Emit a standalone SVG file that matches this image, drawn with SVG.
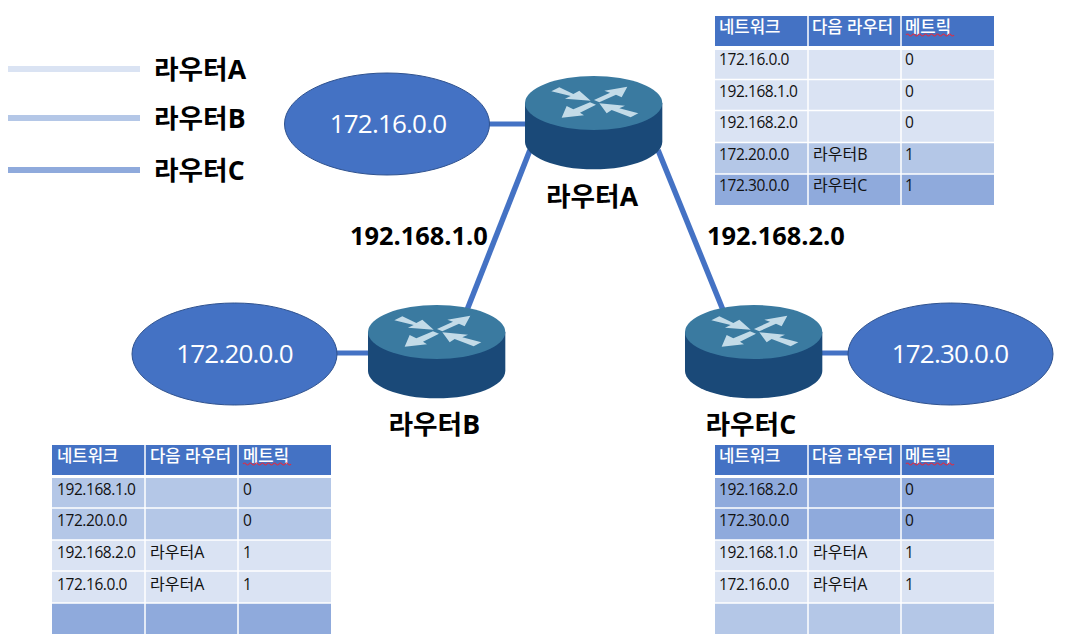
<svg xmlns="http://www.w3.org/2000/svg" xmlns:xlink="http://www.w3.org/1999/xlink" width="1065" height="643" viewBox="0 0 1065 643">
<style>
text{font-family:"Open Sans","Noto Sans CJK KR",sans-serif}
.net{fill:#4472c4;stroke:#2f528f;stroke-width:1}
.nett{fill:#fff;font-size:26px;font-weight:400;letter-spacing:-.8px;text-anchor:middle}
.lab{fill:#000;font-size:26.700px;font-weight:700}
.num{fill:#000;font-size:25.400px;font-weight:700}
.conn{stroke:#4472c4;stroke-width:5;fill:none}
.diag{stroke-width:5.500}
.h{fill:#4472c4}.a{fill:#dae3f3}.b{fill:#b4c7e7}.c{fill:#8faadc}
.th{fill:#fff;font-size:16.700px;font-weight:500}
.td{fill:#111;font-size:15.500px;letter-spacing:-.42px}
.kr{fill:#111;font-size:16px}
.sq{fill:none;stroke:#d8304a;stroke-width:1.200}
.sep{stroke:#fff;stroke-width:1.500}
</style>
<defs>
<g id="router">
<path d="M45 99V215C45 260 137 298 251 298C365 298 457 260 457 215V99Z" fill="#1a4978"/>
<ellipse cx="251" cy="99" rx="206" ry="81" fill="#3a7aa0"/>
<g fill="#c3dbe8">
<polygon points="124,64 148,52 190,72 208,62 242,92 165,86 182,78"/>
<polygon points="352,50 335,82 318,74 268,97 252,90 300,68 283,62"/>
<polygon points="155,143 170,108 190,118 240,97 258,104 210,128 222,136"/>
<polygon points="268,100 345,107 328,115 385,130 362,142 305,120 290,130"/>
</g>
</g>
<path id="squig" class="sq" d="M0 0q1.5-2 3 0t3 0 3 0 3 0 3 0 3 0 3 0 3 0 3 0 3 0 3 0 3 0 3 0 3 0 3 0 3 0"/>
</defs>
<g id="connectors">
<line class="conn" x1="489" y1="124" x2="527" y2="124"/>
<line class="conn diag" x1="530" y1="150" x2="467" y2="310"/>
<line class="conn diag" x1="658" y1="150" x2="723" y2="310"/>
<line class="conn" x1="336" y1="353" x2="370" y2="353"/>
<line class="conn" x1="821" y1="353" x2="850" y2="353"/>
</g>
<g id="legend">
<rect x="8" y="66" width="132" height="6" class="a"/>
<rect x="8" y="115" width="132" height="6" class="b"/>
<rect x="8" y="167" width="132" height="6" class="c"/>
<text class="lab" x="154" y="79">라우터A</text>
<text class="lab" x="154" y="128">라우터B</text>
<text class="lab" x="154" y="180">라우터C</text>
</g>
<g id="net-172-16"><ellipse class="net" cx="387" cy="124" rx="102.500" ry="51"/><text class="nett" x="388" y="133">172.16.0.0</text></g>
<g id="net-172-20"><ellipse class="net" cx="234.500" cy="354" rx="102.500" ry="51"/><text class="nett" x="234.500" y="362.500">172.20.0.0</text></g>
<g id="net-172-30"><ellipse class="net" cx="950.500" cy="354" rx="102.500" ry="51"/><text class="nett" x="950" y="362.500">172.30.0.0</text></g>
<g id="router-a"><use href="#router" transform="translate(510 70) scale(.3333)"/><text class="lab" x="546" y="206">라우터A</text></g>
<g id="router-b"><use href="#router" transform="translate(353 299) scale(.3333)"/><text class="lab" x="388.500" y="434">라우터B</text></g>
<g id="router-c"><use href="#router" transform="translate(670 299) scale(.3333)"/><text class="lab" x="705.500" y="434">라우터C</text></g>
<g id="link-labels">
<text class="num" x="350" y="245">192.168.1.0</text>
<text class="num" x="707" y="245">192.168.2.0</text>
</g>
<g id="table-a">
<rect class="h" x="715" y="16" width="279" height="30"/>
<rect class="a" x="715" y="50" width="279" height="92"/>
<rect class="b" x="715" y="143" width="279" height="31"/>
<rect class="c" x="715" y="174" width="279" height="31"/>
<g class="sep"><line x1="808" y1="16" x2="808" y2="205"/><line x1="901" y1="16" x2="901" y2="205"/><line x1="715" y1="79.500" x2="994" y2="79.500"/><line x1="715" y1="110.500" x2="994" y2="110.500"/><line x1="715" y1="142.500" x2="994" y2="142.500"/><line x1="715" y1="174" x2="994" y2="174"/></g>
<text class="th" x="719" y="33">네트워크</text><text class="th" x="812" y="33">다음 라우터</text><text class="th" x="905" y="33">메트릭</text>
<use href="#squig" x="906" y="35"/>
<text class="td" x="719" y="65">172.16.0.0</text><text class="td" x="905" y="65">0</text>
<text class="td" x="719" y="96.500">192.168.1.0</text><text class="td" x="905" y="96.500">0</text>
<text class="td" x="719" y="128">192.168.2.0</text><text class="td" x="905" y="128">0</text>
<text class="td" x="719" y="160">172.20.0.0</text><text class="kr" x="813" y="160">라우터B</text><text class="td" x="905" y="160">1</text>
<text class="td" x="719" y="191">172.30.0.0</text><text class="kr" x="813" y="191">라우터C</text><text class="td" x="905" y="191">1</text>
</g>
<g id="table-b">
<rect class="h" x="52" y="445" width="279" height="30"/>
<rect class="b" x="52" y="478" width="279" height="62"/>
<rect class="a" x="52" y="540" width="279" height="63"/>
<rect class="c" x="52" y="603" width="279" height="31"/>
<g class="sep"><line x1="145" y1="445" x2="145" y2="634"/><line x1="238" y1="445" x2="238" y2="634"/><line x1="52" y1="508" x2="331" y2="508"/><line x1="52" y1="540" x2="331" y2="540"/><line x1="52" y1="571" x2="331" y2="571"/><line x1="52" y1="603" x2="331" y2="603"/></g>
<text class="th" x="57" y="462">네트워크</text><text class="th" x="150" y="462">다음 라우터</text><text class="th" x="243" y="462">메트릭</text>
<use href="#squig" x="243" y="464"/>
<text class="td" x="57" y="495">192.168.1.0</text><text class="td" x="243" y="495">0</text>
<text class="td" x="57" y="526">172.20.0.0</text><text class="td" x="243" y="526">0</text>
<text class="td" x="57" y="558">192.168.2.0</text><text class="kr" x="150" y="558">라우터A</text><text class="td" x="243" y="558">1</text>
<text class="td" x="57" y="590">172.16.0.0</text><text class="kr" x="150" y="590">라우터A</text><text class="td" x="243" y="590">1</text>
</g>
<g id="table-c">
<rect class="h" x="715" y="445" width="279" height="30"/>
<rect class="c" x="715" y="478" width="279" height="62"/>
<rect class="a" x="715" y="540" width="279" height="63"/>
<rect class="b" x="715" y="603" width="279" height="31"/>
<g class="sep"><line x1="808" y1="445" x2="808" y2="634"/><line x1="901" y1="445" x2="901" y2="634"/><line x1="715" y1="508" x2="994" y2="508"/><line x1="715" y1="540" x2="994" y2="540"/><line x1="715" y1="571" x2="994" y2="571"/><line x1="715" y1="603" x2="994" y2="603"/></g>
<text class="th" x="719" y="462">네트워크</text><text class="th" x="812" y="462">다음 라우터</text><text class="th" x="905" y="462">메트릭</text>
<use href="#squig" x="906" y="464"/>
<text class="td" x="719" y="495">192.168.2.0</text><text class="td" x="905" y="495">0</text>
<text class="td" x="719" y="526">172.30.0.0</text><text class="td" x="905" y="526">0</text>
<text class="td" x="719" y="558">192.168.1.0</text><text class="kr" x="813" y="558">라우터A</text><text class="td" x="905" y="558">1</text>
<text class="td" x="719" y="590">172.16.0.0</text><text class="kr" x="813" y="590">라우터A</text><text class="td" x="905" y="590">1</text>
</g>
</svg>
